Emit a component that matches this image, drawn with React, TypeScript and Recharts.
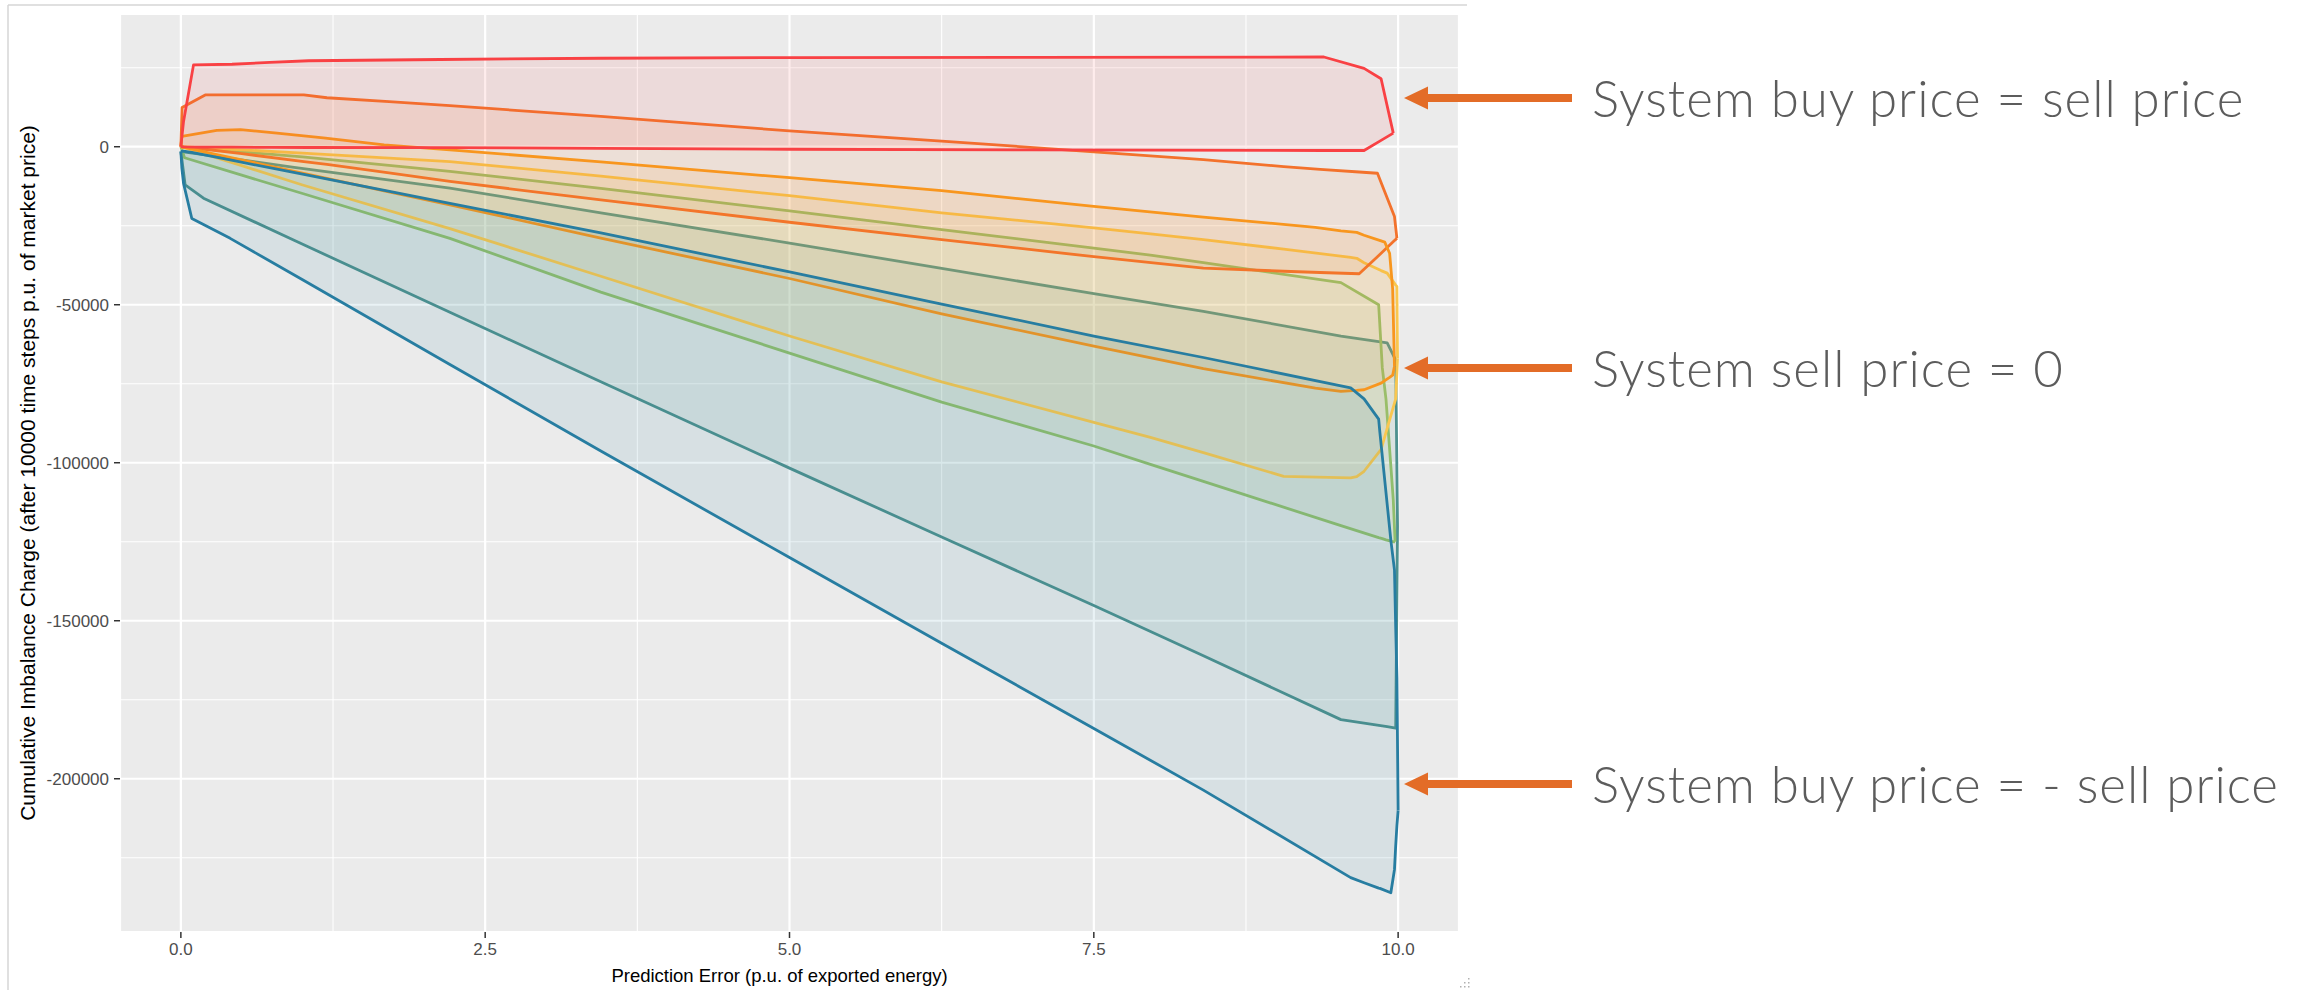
import React from "react";
import { ComposedChart, Area, XAxis, YAxis, CartesianGrid } from "recharts";

// each row: [prediction error, lower edge, upper edge]
type Edge = [number, number, number];

const xTicks = [0, 2.5, 5, 7.5, 10];
const xMinor = [1.25, 3.75, 6.25, 8.75];
const yTicks = [-200000, -150000, -100000, -50000, 0];
const yMinor = [-225000, -175000, -125000, -75000, -25000, 25000];

const redBand: Edge[] = [
  [0, 0, 0],
  [0.022, -50, 8000],
  [0.104, -100, 25900],
  [0.42, -150, 26100],
  [0.73, -200, 26700],
  [1.05, -250, 27200],
  [2.13, -300, 27600],
  [3.45, -500, 28000],
  [5.0, -800, 28200],
  [7.0, -1000, 28300],
  [9.39, -1200, 28400],
  [9.72, -1200, 24800],
  [9.86, 2000, 21500],
  [9.96, 4300, 4300],
];

const orangeRedBand: Edge[] = [
  [0, 0, 0],
  [0.01, -50, 12400],
  [0.2, -800, 16400],
  [0.5, -2200, 16400],
  [1.01, -4700, 16400],
  [1.2, -5600, 15500],
  [1.71, -8300, 14300],
  [2.21, -11000, 13000],
  [3.45, -16800, 9600],
  [5.0, -23900, 5000],
  [6.25, -29400, 1800],
  [7.5, -34800, -1600],
  [8.4, -38400, -4100],
  [9.06, -39400, -6300],
  [9.36, -39800, -7200],
  [9.68, -40200, -8000],
  [9.83, -34800, -8400],
  [9.97, -29700, -22100],
  [9.99, -29000, -29000],
];

const orangeBand: Edge[] = [
  [0, 0, 0],
  [0.008, -70, 3300],
  [0.295, -2500, 5200],
  [0.49, -4100, 5400],
  [0.79, -6600, 4300],
  [1.17, -9800, 2800],
  [1.67, -14000, 600],
  [2.21, -18400, -1000],
  [3.45, -28900, -4800],
  [5.0, -41700, -9800],
  [6.25, -52900, -13900],
  [7.5, -63100, -18900],
  [8.4, -70200, -22300],
  [9.32, -76400, -25500],
  [9.53, -77400, -26600],
  [9.66, -77100, -27100],
  [9.72, -76900, -28000],
  [9.86, -74800, -29800],
  [9.89, -74000, -30200],
  [9.93, -73000, -33700],
  [9.955, -72300, -45000],
  [9.97, -69500, -69500],
];

const yellowBand: Edge[] = [
  [0, 0, 0],
  [0.5, -6000, -1000],
  [1.0, -12100, -2000],
  [2.21, -25900, -4700],
  [3.45, -41000, -9300],
  [5.0, -59900, -15500],
  [6.25, -74400, -20900],
  [7.5, -87200, -25700],
  [7.965, -92000, -27600],
  [8.4, -96800, -29400],
  [9.06, -104300, -32400],
  [9.61, -104800, -35000],
  [9.66, -104400, -35300],
  [9.72, -102700, -36700],
  [9.86, -95800, -39200],
  [9.91, -89100, -40000],
  [9.98, -79800, -43800],
  [9.99, -71300, -44200],
  [9.995, -67000, -67000],
];

const greenBand: Edge[] = [
  [0, 0, 0],
  [0.03, -3500, -300],
  [0.5, -9000, -1600],
  [1.0, -14800, -3200],
  [2.21, -29000, -7800],
  [3.45, -46000, -13200],
  [5.0, -65300, -20300],
  [6.25, -80800, -26200],
  [7.5, -94700, -32100],
  [7.965, -100500, -34300],
  [8.4, -105900, -36700],
  [9.53, -119900, -43000],
  [9.84, -123700, -50000],
  [9.87, -124000, -70000],
  [9.9, -124400, -79800],
  [9.94, -124800, -101000],
  [9.96, -125000, -111700],
  [9.975, -125000, -125000],
];

const tealBand: Edge[] = [
  [0, -1500, -1500],
  [0.035, -12100, -1700],
  [0.186, -16300, -2500],
  [0.93, -29600, -6500],
  [2.21, -52400, -13100],
  [3.45, -74400, -20900],
  [5.0, -101700, -30500],
  [6.25, -123500, -38500],
  [7.5, -145200, -46500],
  [8.4, -161100, -52100],
  [9.53, -181300, -59900],
  [9.91, -183500, -62100],
  [9.98, -184000, -67500],
  [9.995, -120000, -120000],
];

const blueBand: Edge[] = [
  [0, -1500, -1500],
  [0.008, -6800, -1450],
  [0.022, -11600, -1400],
  [0.09, -22700, -1800],
  [0.405, -29000, -4200],
  [1.0, -42100, -8700],
  [2.21, -68900, -17900],
  [3.45, -96300, -27300],
  [5.0, -130000, -39600],
  [6.25, -157100, -49800],
  [7.5, -184100, -59900],
  [8.4, -203600, -66700],
  [9.61, -231300, -76300],
  [9.72, -232900, -79800],
  [9.84, -234600, -86200],
  [9.85, -234700, -90400],
  [9.94, -236100, -124500],
  [9.97, -228700, -134000],
  [9.98, -221200, -152100],
  [9.99, -214800, -168000],
  [10.0, -210000, -210000],
];

// drawing order: later bands sit on top of earlier ones
const bands = [
  { key: "teal", color: "#4D908E", edge: tealBand },
  { key: "green", color: "#90BE6D", edge: greenBand },
  { key: "yellow", color: "#F9C74F", edge: yellowBand },
  { key: "orangeRed", color: "#F3722C", edge: orangeRedBand },
  { key: "orange", color: "#F8961E", edge: orangeBand },
  { key: "red", color: "#F94144", edge: redBand },
  { key: "blue", color: "#277DA1", edge: blueBand },
];

const notes = [
  { text: "System buy price = sell price", y: 98 },
  { text: "System sell price = 0", y: 368 },
  { text: "System buy price = - sell price", y: 784 },
];

const axisFont = "'Liberation Sans', Arial, sans-serif";

function Arrow({ y }: { y: number }) {
  const pts = [
    [1404, y],
    [1428, y - 11.5],
    [1428, y - 4],
    [1572, y - 4],
    [1572, y + 4],
    [1428, y + 4],
    [1428, y + 11.5],
  ]
    .map((p) => p.join(","))
    .join(" ");
  return <polygon points={pts} fill="#E36C27" />;
}

export default function App() {
  return (
    <div style={{ position: "absolute", left: 0, top: 0, width: 2300, height: 990, background: "#fff", overflow: "hidden" }}>
      <div style={{ position: "absolute", left: 0, top: 0 }}>
        <ComposedChart width={1480} height={990} margin={{ top: 14, right: 21, bottom: 0, left: 0 }}>
          <CartesianGrid fill="#EBEBEB" stroke="#FFFFFF" strokeWidth={2.2} />
          <CartesianGrid stroke="#FFFFFF" strokeWidth={1.1} verticalValues={xMinor} horizontalValues={yMinor} />
          <XAxis
            type="number"
            dataKey="x"
            domain={[-0.5, 10.5]}
            ticks={xTicks}
            interval={0}
            tickFormatter={(v: number) => v.toFixed(1)}
            axisLine={false}
            tickSize={6}
            tickMargin={5}
            tickLine={{ stroke: "#333333", strokeWidth: 1.5 }}
            tick={{ fontSize: 17, fill: "#4D4D4D", fontFamily: axisFont }}
            height={58}
            label={{
              value: "Prediction Error (p.u. of exported energy)",
              position: "insideBottom",
              offset: 8,
              dx: -10,
              fill: "#000000",
              fontSize: 18.5,
              fontFamily: axisFont,
            }}
          />
          <YAxis
            type="number"
            domain={[-248500, 42000]}
            ticks={yTicks}
            interval={0}
            allowDataOverflow
            axisLine={false}
            tickSize={6}
            tickMargin={5}
            tickLine={{ stroke: "#333333", strokeWidth: 1.5 }}
            tick={{ fontSize: 17, fill: "#4D4D4D", fontFamily: axisFont }}
            width={120}
            label={{
              value: "Cumulative Imbalance Charge (after 10000 time steps p.u. of market price)",
              angle: -90,
              position: "insideLeft",
              offset: 28,
              fill: "#000000",
              fontSize: 21,
              fontFamily: axisFont,
              style: { textAnchor: "middle" },
            }}
          />
          {bands.map((b) => (
            <Area
              key={b.key}
              data={b.edge.map(([x, lo, hi]) => ({ x, band: [lo, hi] }))}
              dataKey="band"
              type="linear"
              stroke={b.color}
              strokeWidth={2.8}
              strokeLinejoin="round"
              fill={b.color}
              fillOpacity={0.1}
              dot={false}
              activeDot={false}
              isAnimationActive={false}
            />
          ))}
        </ComposedChart>
      </div>
      <svg width={2300} height={990} style={{ position: "absolute", left: 0, top: 0, pointerEvents: "none" }}>
        <line x1={8} y1={5} x2={1467} y2={5} stroke="#D6D6D6" strokeWidth={1.5} />
        <line x1={8} y1={5} x2={8} y2={990} stroke="#D6D6D6" strokeWidth={1.5} />
        {[0, 1, 2].map((i) =>
          [0, 1, 2].filter((j) => j <= i).map((j) => (
            <rect key={`${i}-${j}`} x={1468 - j * 4} y={978 + i * 4} width={1.5} height={1.5} fill="#B0B0B0" />
          ))
        )}
        {notes.map((n) => (
          <g key={n.text}>
            <Arrow y={n.y} />
            <text
              x={1592}
              y={n.y + 19}
              fontSize={51}
              letterSpacing={1}
              fontWeight={300}
              fill="#5C5C5C"
              fontFamily="Lato, 'Open Sans', sans-serif"
            >
              {n.text}
            </text>
          </g>
        ))}
      </svg>
    </div>
  );
}
